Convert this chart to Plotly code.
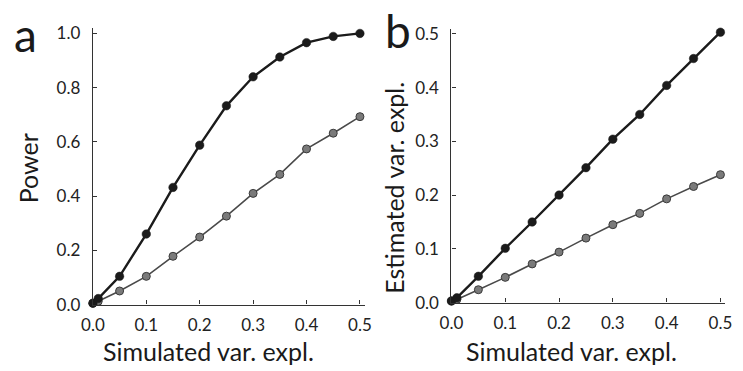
import plotly.graph_objects as go

# Data
sim_x = [0.0, 0.01, 0.05, 0.10, 0.15, 0.20, 0.25, 0.30, 0.35, 0.40, 0.45, 0.50]
power_black = [0.005, 0.022, 0.104, 0.260, 0.432, 0.588, 0.733, 0.840, 0.913, 0.966, 0.989, 1.000]
power_gray = [0.005, 0.012, 0.050, 0.104, 0.178, 0.249, 0.326, 0.410, 0.480, 0.574, 0.632, 0.693]
est_black = [0.003, 0.009, 0.049, 0.101, 0.150, 0.200, 0.251, 0.304, 0.350, 0.404, 0.454, 0.503]
est_gray = [0.003, 0.006, 0.024, 0.047, 0.072, 0.094, 0.120, 0.145, 0.166, 0.193, 0.216, 0.238]

xticks = [0.0, 0.1, 0.2, 0.3, 0.4, 0.5]
xticklabels = ["0.0", "0.1", "0.2", "0.3", "0.4", "0.5"]
a_yticks = [0.0, 0.2, 0.4, 0.6, 0.8, 1.0]
a_yticklabels = ["0.0", "0.2", "0.4", "0.6", "0.8", "1.0"]
b_yticks = [0.0, 0.1, 0.2, 0.3, 0.4, 0.5]
b_yticklabels = ["0.0", "0.1", "0.2", "0.3", "0.4", "0.5"]

FONT = "Lato"
BLACK = "#1b1b1b"
GRAYLINE = "#4a4a4a"
GRAYFILL = "#7a7a7a"

fig = go.Figure()

def add_pair(xa, ya, yb_black, yb_gray):
    fig.add_trace(go.Scatter(x=sim_x, y=yb_gray, xaxis=xa, yaxis=ya, mode="lines+markers",
                             line=dict(color=GRAYLINE, width=1.6),
                             marker=dict(size=8, color=GRAYFILL, line=dict(color="#3a3a3a", width=1)),
                             cliponaxis=False, showlegend=False))
    fig.add_trace(go.Scatter(x=sim_x, y=yb_black, xaxis=xa, yaxis=ya, mode="lines+markers",
                             line=dict(color=BLACK, width=2.4),
                             marker=dict(size=8.5, color=BLACK, line=dict(color=BLACK, width=0.5)),
                             cliponaxis=False, showlegend=False))

add_pair("x", "y", power_black, power_gray)
add_pair("x2", "y2", est_black, est_gray)

W, H = 743, 371
axis_common = dict(showgrid=False, zeroline=False, showline=True, linecolor="#333333", linewidth=1.4,
                   ticks="inside", ticklen=4, tickwidth=1, tickcolor="#333333",
                   tickfont=dict(family=FONT, size=17, color="#222222"))

fig.update_layout(
    width=W, height=H, margin=dict(l=0, r=0, t=0, b=0),
    paper_bgcolor="white", plot_bgcolor="white",
    xaxis=dict(domain=[83 / W, 362 / W], range=[0, 0.509], tickvals=xticks, ticktext=xticklabels,
               anchor="y", ticklabelstandoff=5, **axis_common),
    yaxis=dict(domain=[(H - 312) / H, (H - 23) / H], range=[0, 1.02], tickvals=a_yticks,
               ticktext=a_yticklabels, anchor="x", ticklabelstandoff=8, **axis_common),
    xaxis2=dict(domain=[451 / W, 732 / W], range=[0, 0.509], tickvals=xticks, ticktext=xticklabels,
                anchor="y2", ticklabelstandoff=5, **axis_common),
    yaxis2=dict(domain=[(H - 310) / H, (H - 24) / H], range=[0, 0.509], tickvals=b_yticks,
                ticktext=b_yticklabels, anchor="x2", ticklabelstandoff=8, **axis_common),
)

annots = [
    dict(text="a", x=14 / W, y=1 - 30 / H, font=dict(size=46)),
    dict(text="b", x=396 / W, y=1 - 26 / H, font=dict(size=46)),
    dict(text="Simulated var. expl.", x=202 / W, y=1 - 361 / H, font=dict(size=25)),
    dict(text="Simulated var. expl.", x=574 / W, y=1 - 361 / H, font=dict(size=25)),
    dict(text="Power", x=16 / W, y=1 - 170 / H, font=dict(size=25), textangle=-90),
    dict(text="Estimated var. expl.", x=392 / W, y=1 - 190 / H, font=dict(size=25), textangle=-90),
]
for a in annots:
    a["font"].update(family=FONT, color="#1a1a1a")
    fig.add_annotation(xref="paper", yref="paper", showarrow=False, xanchor="center",
                       yanchor="middle", **a)

fig.write_html("out.html")
